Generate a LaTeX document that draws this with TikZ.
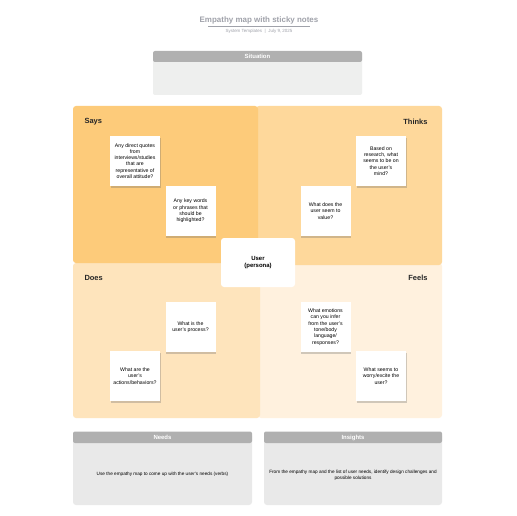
\documentclass[tikz,border=0pt]{standalone}
\usepackage{fontspec}
\setmainfont{Liberation Sans}
\usetikzlibrary{shadows}
\definecolor{says}{RGB}{253,203,122}
\definecolor{thinks}{RGB}{254,216,155}
\definecolor{does}{RGB}{254,228,188}
\definecolor{feels}{RGB}{255,241,222}
\definecolor{hdr}{RGB}{176,176,176}
\definecolor{bodyg}{RGB}{233,233,233}
\definecolor{sitbody}{RGB}{238,239,238}
\definecolor{titleg}{RGB}{160,162,170}
\tikzset{
  quad/.style={rounded corners=3bp, draw=none},
  sticky/.style={fill=white, draw=none, minimum width=50bp, minimum height=50bp, align=center,
     font=\fontsize{5.2}{6.3}\selectfont, inner sep=0pt,
     drop shadow={shadow xshift=0.8bp, shadow yshift=-2.2bp, opacity=0.3, fill=black!60}},
  qlabel/.style={font=\bfseries\fontsize{7.5}{9}\selectfont, text=black!85},
  hdrtext/.style={font=\bfseries\fontsize{6}{7}\selectfont, text=white},
  bodytext/.style={font=\fontsize{4.7}{6}\selectfont, align=center}
}
\begin{document}
\begin{tikzpicture}[x=1bp,y=-1bp]
\useasboundingbox[fill=white] (0,0) rectangle (516,516);
% title
\node[font=\bfseries\fontsize{8}{9.5}\selectfont, text=titleg] (title) at (259,20) {Empathy map with sticky notes};
\draw[titleg, line width=0.6bp] (208,26.5) -- (310,26.5);
\node[font=\fontsize{4.5}{5}\selectfont, text=titleg] (sub) at (259,31.5) {System Templates \ | \ July 9, 2025};
% situation
\fill[sitbody, rounded corners=2bp] (153,52) rectangle (362,95);
\fill[hdr, rounded corners=2bp] (153,51) rectangle (362,62);
\node[hdrtext] (sit) at (257.5,56.5) {Situation};
% quadrants
\fill[quad, fill=feels] (258,263) rectangle (442,418);
\fill[quad, fill=does] (73,263) rectangle (260,418);
\fill[quad, fill=thinks] (256,106) rectangle (442,265);
\fill[quad, fill=says] (73,106) rectangle (258,263);
\node[qlabel, anchor=west] (says) at (81,121.5) {Says};
\node[qlabel, anchor=east] (thinks) at (431,121.5) {Thinks};
\node[qlabel, anchor=west] (does) at (81,278) {Does};
\node[qlabel, anchor=east] (feels) at (431,278) {Feels};
% user
\node[fill=white, rounded corners=3bp, minimum width=74bp, minimum height=49bp, align=center,
  font=\bfseries\fontsize{6}{7}\selectfont, inner sep=0pt] (user) at (258,262.5) {User\\(persona)};
% sticky notes
\node[sticky] (n1) at (135,161) {Any direct quotes\\from\\interviews/studies\\that are\\representative of\\overall attitude?};
\node[sticky] (n2) at (190.5,211) {Any key words\\or phrases that\\should be\\highlighted?};
\node[sticky] (n3) at (381,161) {Based on\\research, what\\seems to be on\\the user's\\mind?};
\node[sticky] (n4) at (325.5,211) {What does the\\user seem to\\value?};
\node[sticky] (n5) at (190.5,327) {What is the\\user's process?};
\node[sticky] (n6) at (135,376) {What are the\\user's\\actions/behaviors?};
\node[sticky] (n7) at (325.5,327) {What emotions\\can you infer\\from the user's\\tone/body\\language/\\responses?};
\node[sticky] (n8) at (381,376) {What seems to\\worry/excite the\\user?};
% needs
\fill[bodyg, rounded corners=3bp] (73,433) rectangle (252,505);
\fill[hdr, rounded corners=2bp] (73,431.5) rectangle (252,443);
\node[hdrtext] (needs) at (162.5,437.5) {Needs};
\node[bodytext] (needst) at (162.5,474) {Use the empathy map to come up with the user's needs (verbs)};
% insights
\fill[bodyg, rounded corners=3bp] (264,433) rectangle (442,505);
\fill[hdr, rounded corners=2bp] (264,431.5) rectangle (442,443);
\node[hdrtext] (ins) at (353,437.5) {Insights};
\node[bodytext] (inst) at (353,475) {From the empathy map and the list of user needs, identify design challenges and\\possible solutions};
\end{tikzpicture}
\end{document}
